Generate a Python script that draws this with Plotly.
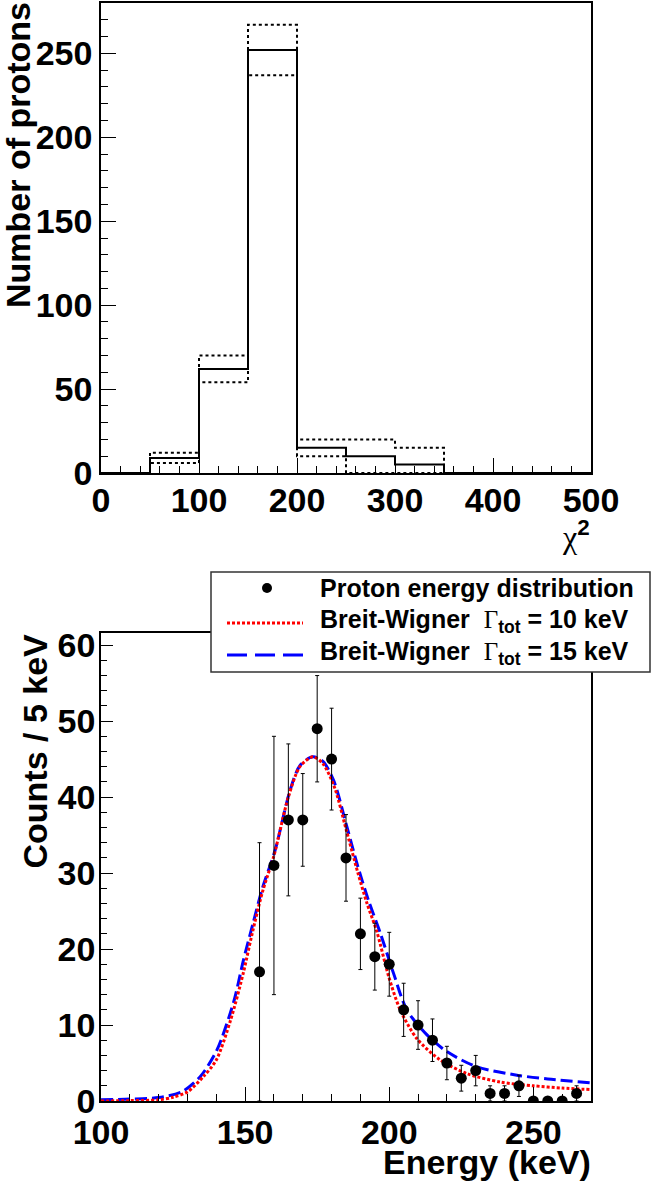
import plotly.graph_objects as go

W, H = 652, 1181

# top panel: chi2 distribution of the proton fits
chi2_edges = [0, 50, 100, 150, 200, 250, 300, 350, 400, 450, 500]
chi2_counts = [0, 9, 62, 252, 15, 10, 5, 0, 0, 0]
chi2_upper = [0, 12, 70, 267, 20, 20, 15, 0, 0, 0]
chi2_lower = [0, 6, 54, 237, 10, 0, 0, 0, 0, 0]

# bottom panel: proton energy spectrum
energy = [155, 160, 165, 170, 175, 180, 185, 190, 195, 200, 205, 210,
          215, 220, 225, 230, 235, 240, 245, 250, 255, 260, 265]
counts = [17, 31, 37, 37, 49, 45, 32, 22, 19, 18, 12, 10,
          8, 5, 3, 4, 1, 1, 2, 0, 0, 0, 1]
count_err = [17, 17, 10, 6.1, 7, 6.7, 5.7, 4.7, 4.4, 4.2, 3.5, 3.2,
             2.8, 2.2, 1.7, 2, 1, 1, 1.4, 0, 0, 0, 1]

# Breit-Wigner curves
bw10_e = [100, 110, 120, 125, 130, 135.5, 140, 145, 149.4, 152.3, 156, 160, 165,
          169, 173.5, 177, 181, 185, 189, 192.3, 195.7, 199.8, 203.8, 209.6,
          217.7, 227, 238.5, 250, 260, 270]
bw10_y = [0.0, 0.05, 0.15, 0.5, 1.2, 3.2, 5.4, 10.7, 16.9, 21.8, 27.5, 32.3, 40,
          44, 45.3, 44.4, 41.3, 35.8, 30.2, 26.0, 22.3, 16.4, 12, 8.2,
          5.4, 3.6, 2.5, 2.0, 1.7, 1.5]
bw15_e = [100, 110, 120, 128, 134.4, 140.2, 146, 149.4, 152.9, 156, 160.4, 165.6,
          169.1, 173.5, 177, 180.7, 185.3, 189, 192.8, 196.9, 201.5, 206.1,
          213.1, 220, 230.4, 244.3, 255, 270]
bw15_y = [0.15, 0.25, 0.45, 1.2, 3.2, 6.7, 13, 18.5, 23.6, 28, 33, 40.9,
          44.2, 45.3, 44.7, 42.2, 36.1, 31.0, 26.4, 22.1, 16.8, 12,
          8.7, 6.5, 4.5, 3.4, 2.9, 2.4]

FONT = "Liberation Sans, Arial, sans-serif"


def px(x):
    return x / W


def py(y):
    return 1 - y / H


fig = go.Figure()

# histograms (dotted = systematic band, solid = nominal)
for vals, dash in [(chi2_upper, "3px,3px"), (chi2_lower, "3px,3px"), (chi2_counts, "solid")]:
    fig.add_trace(go.Scatter(x=chi2_edges, y=vals + [vals[-1]], mode="lines",
                             line=dict(shape="hv", color="black", width=2, dash=dash),
                             xaxis="x", yaxis="y"))

fig.add_trace(go.Scatter(x=bw15_e, y=bw15_y, mode="lines",
                         line=dict(shape="spline", smoothing=0.8, color="#0000ff", width=3,
                                   dash="12px,5px"),
                         xaxis="x2", yaxis="y2"))
fig.add_trace(go.Scatter(x=bw10_e, y=bw10_y, mode="lines",
                         line=dict(shape="spline", smoothing=0.8, color="#ff0000", width=3,
                                   dash="3px,2px"),
                         xaxis="x2", yaxis="y2"))
fig.add_trace(go.Scatter(x=energy, y=counts, mode="markers",
                         marker=dict(color="black", size=11),
                         error_y=dict(type="data", array=count_err, color="black",
                                      thickness=1, width=2),
                         xaxis="x2", yaxis="y2"))

tickfont = dict(family=FONT, size=34, color="black", weight="bold")
common = dict(showline=True, mirror=True, linecolor="black", linewidth=1.5,
              showgrid=False, zeroline=False, ticks="inside", tickcolor="black",
              tickwidth=1, tickfont=tickfont, automargin=False)

fig.update_layout(
    width=W, height=H,
    margin=dict(l=0, r=0, t=0, b=0, autoexpand=False),
    paper_bgcolor="white", plot_bgcolor="white",
    showlegend=False,
    xaxis=dict(domain=[px(101), px(591)], anchor="y", range=[0, 500],
               dtick=100, tick0=0, ticklen=15, ticklabelstandoff=-4,
               minor=dict(ticks="inside", ticklen=7, dtick=20, tickcolor="black"),
               **common),
    yaxis=dict(domain=[py(473), py(3)], anchor="x", range=[0, 280],
               dtick=50, tick0=0, ticklen=15,
               minor=dict(ticks="inside", ticklen=7, dtick=10, tickcolor="black"),
               **common),
    xaxis2=dict(domain=[px(101), px(591)], anchor="y2", range=[100, 270],
                dtick=50, tick0=100, ticklen=14,
                minor=dict(ticks="inside", ticklen=7, dtick=10, tickcolor="black"),
                **common),
    yaxis2=dict(domain=[py(1101), py(633)], anchor="x2", range=[0, 61.6],
                dtick=10, tick0=0, ticklen=12, ticklabelstandoff=-3,
                minor=dict(ticks="inside", ticklen=6, dtick=2, tickcolor="black"),
                **common),
)

titlefont = dict(family=FONT, size=34, color="black", weight="bold")
fig.add_annotation(text="Number of protons", textangle=-90, xref="paper", yref="paper",
                   x=px(18), y=py(0), xanchor="center", yanchor="top",
                   showarrow=False, font=titlefont)
fig.add_annotation(text="Counts / 5 keV", textangle=-90, xref="paper", yref="paper",
                   x=px(34), y=py(632), xanchor="center", yanchor="top",
                   showarrow=False, font=titlefont)
fig.add_annotation(text="Energy (keV)", xref="paper", yref="paper",
                   x=px(593), y=py(1162), xanchor="right", yanchor="middle",
                   showarrow=False, font=titlefont)
fig.add_annotation(text="<span style='font-family:Liberation Serif;font-weight:normal'>χ</span><sup>2</sup>",
                   xref="paper", yref="paper",
                   x=px(592), y=py(535), xanchor="right", yanchor="middle",
                   showarrow=False, font=dict(family=FONT, size=32, color="black", weight="bold"))

# legend box drawn by hand
fig.add_shape(type="rect", xref="paper", yref="paper",
              x0=px(211), x1=px(650), y0=py(672), y1=py(572),
              fillcolor="white", line=dict(color="#333333", width=1.5), layer="above")
fig.add_shape(type="circle", xref="paper", yref="paper",
              x0=px(262), x1=px(272), y0=py(593), y1=py(583),
              fillcolor="black", line=dict(color="black", width=0), layer="above")
fig.add_shape(type="line", xref="paper", yref="paper",
              x0=px(227), x1=px(303), y0=py(623), y1=py(623),
              line=dict(color="#ff0000", width=3, dash="3px,2px"), layer="above")
fig.add_shape(type="line", xref="paper", yref="paper",
              x0=px(227), x1=px(303), y0=py(655), y1=py(655),
              line=dict(color="#0000ff", width=3, dash="20px,8px"), layer="above")

legfont = dict(family=FONT, size=25, color="black", weight="bold")
gamma = "<span style='font-family:Liberation Serif;font-weight:normal'>Γ</span><sub>tot</sub>"
leg_texts = ["Proton energy distribution",
             "Breit-Wigner  " + gamma + " = 10 keV",
             "Breit-Wigner  " + gamma + " = 15 keV"]
for txt, yc in zip(leg_texts, [588, 621, 653]):
    fig.add_annotation(text=txt, xref="paper", yref="paper", x=px(318), y=py(yc),
                       xanchor="left", yanchor="middle", showarrow=False, font=legfont)

# page body has a default 8px margin; drop it so the figure sits at the window corner
fig.write_html("out.html", config={"displayModeBar": False},
               post_script="document.body.style.margin='0px';")
